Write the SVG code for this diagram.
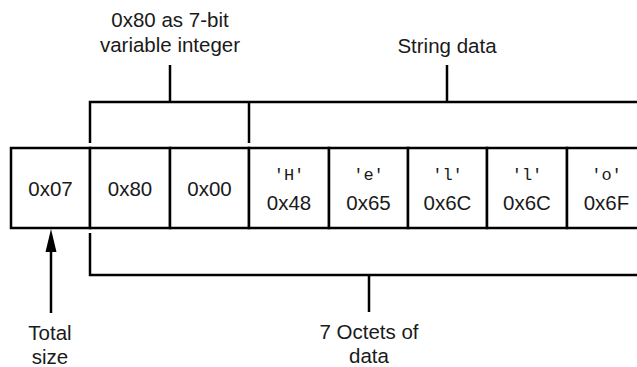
<svg xmlns="http://www.w3.org/2000/svg" width="637" height="367" viewBox="0 0 637 367">
<style>
.ln{stroke:#000;stroke-width:2.5;fill:none}
.cell{stroke:#000;stroke-width:2.5;fill:#fff}
.t{font-family:"Liberation Sans",Arial,sans-serif;font-size:20.5px;fill:#1a1a1a;text-anchor:middle}
.m{font-family:"Liberation Mono","DejaVu Sans Mono",monospace;font-size:17px;fill:#1a1a1a;text-anchor:middle}
</style>
<g id="cells">
<g id="c0"><rect class="cell" x="11" y="148" width="79" height="80"/><text class="t" x="50.5" y="196">0x07</text></g>
<g id="c1"><rect class="cell" x="90" y="148" width="80" height="80"/><text class="t" x="130" y="196">0x80</text></g>
<g id="c2"><rect class="cell" x="170" y="148" width="79" height="80"/><text class="t" x="209.5" y="196">0x00</text></g>
<g id="c3"><rect class="cell" x="249" y="148" width="80" height="80"/><text class="m" x="289" y="180">'H'</text><text class="t" x="289" y="210">0x48</text></g>
<g id="c4"><rect class="cell" x="329" y="148" width="79" height="80"/><text class="m" x="368.5" y="180">'e'</text><text class="t" x="368.5" y="210">0x65</text></g>
<g id="c5"><rect class="cell" x="408" y="148" width="79" height="80"/><text class="m" x="447.5" y="180">'l'</text><text class="t" x="447.5" y="210">0x6C</text></g>
<g id="c6"><rect class="cell" x="487" y="148" width="80" height="80"/><text class="m" x="527" y="180">'l'</text><text class="t" x="527" y="210">0x6C</text></g>
<g id="c7"><rect class="cell" x="567" y="148" width="79" height="80"/><text class="m" x="606.5" y="180">'o'</text><text class="t" x="606.5" y="210">0x6F</text></g>
</g>
<g id="connectors">
<path class="ln" d="M90,143 V102 H640 M249,102 V143 M170,102 V65 M447,102 V65"/>
<path class="ln" d="M90,233 V275 H640 M369,275 V312"/>
<line class="ln" x1="51" y1="250" x2="51" y2="313"/>
<polygon points="51,229 45.5,252 56.5,252" fill="#000"/>
</g>
<g id="labels">
<text class="t" x="170" y="27">0x80 as 7-bit</text>
<text class="t" x="170" y="52">variable integer</text>
<text class="t" x="447" y="53">String data</text>
<text class="t" x="50" y="340">Total</text>
<text class="t" x="50" y="364">size</text>
<text class="t" x="369" y="339">7 Octets of</text>
<text class="t" x="369" y="363">data</text>
</g>
</svg>
